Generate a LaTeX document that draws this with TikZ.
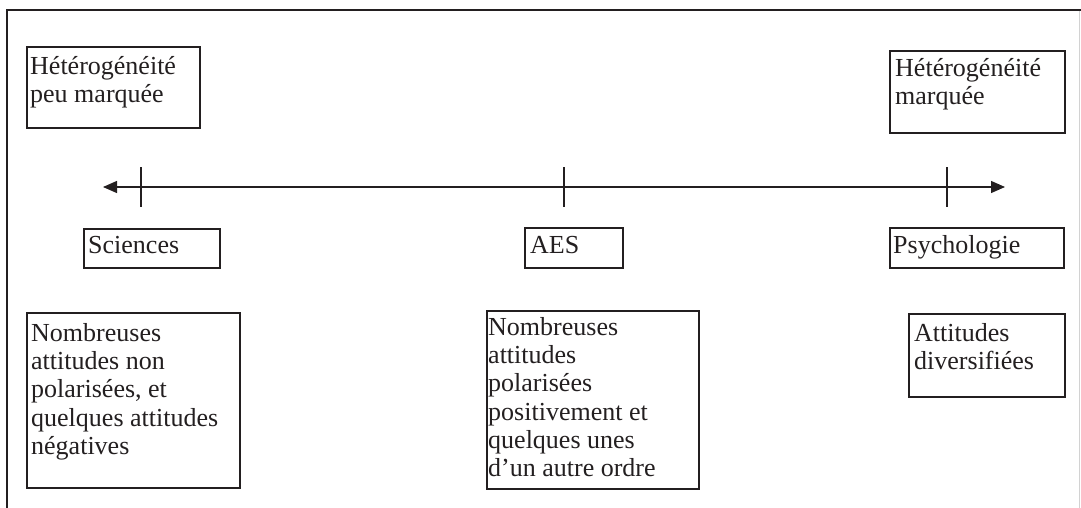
\documentclass[tikz,border=0pt]{standalone}
\usepackage{fontspec}
\setmainfont{Liberation Serif}
\usetikzlibrary{arrows.meta}
\definecolor{ink}{HTML}{231F20}
\newcommand{\fstrut}{\rule{0pt}{22pt}}
\begin{document}
\begin{tikzpicture}[x=1pt,y=-1pt,
  boxed/.style={draw=ink, line width=2pt, inner sep=0pt, anchor=north west},
  txt/.style={inner sep=0pt, anchor=north west, align=left, text=ink, font=\fontsize{26}{28.3}\selectfont},
  axisline/.style={draw=ink, line width=1.3pt},
  tickline/.style={draw=ink, line width=1.5pt},
  tip/.style={Triangle[length=14pt,width=12pt]}]
\useasboundingbox (0,0) rectangle (1081,508);
% outer frame
\draw[ink, line width=2pt] (7,508) -- (7,10) -- (1081,10);
\draw[gray!35, line width=1pt] (1079,11) -- (1079,508);

% top boxes
\node[boxed, minimum width=173pt, minimum height=81pt] (b1) at (26,46) {};
\node[txt] (t1) at ([shift={(4,6)}]b1.north west) {\fstrut Hétérogénéité\\peu marquée};
\node[boxed, minimum width=175pt, minimum height=82pt] (b2) at (889,50) {};
\node[txt] (t2) at ([shift={(6,4)}]b2.north west) {\fstrut Hétérogénéité\\marquée};

% axis
\coordinate (aL) at (103,187);
\coordinate (aR) at (1005,187);
\draw[axisline, {Triangle[length=14pt,width=12pt]}-{Triangle[length=14pt,width=12pt]}] (aL) -- (aR);
\coordinate (k1a) at (141,167); \coordinate (k1b) at (141,207);
\coordinate (k2a) at (564,167); \coordinate (k2b) at (564,207);
\coordinate (k3a) at (947,167); \coordinate (k3b) at (947,207);
\draw[tickline] (k1a) -- (k1b);
\draw[tickline] (k2a) -- (k2b);
\draw[tickline] (k3a) -- (k3b);

% label boxes
\node[boxed, minimum width=136pt, minimum height=39pt] (bs) at (83,228) {};
\node[txt] (ts) at ([shift={(5,3)}]bs.north west) {\fstrut Sciences};
\node[boxed, minimum width=98pt, minimum height=40pt] (ba) at (524,227) {};
\node[txt] (ta) at ([shift={(6,4)}]ba.north west) {\fstrut AES};
\node[boxed, minimum width=174pt, minimum height=40pt] (bp) at (889,227) {};
\node[txt] (tp) at ([shift={(4,4)}]bp.north west) {\fstrut Psychologie};

% bottom boxes
\node[boxed, minimum width=213pt, minimum height=175pt] (bl) at (26,312) {};
\node[txt] (tl) at ([shift={(5,7)}]bl.north west) {\fstrut Nombreuses\\attitudes non\\polarisées, et\\quelques attitudes\\négatives};
\node[boxed, minimum width=212pt, minimum height=178pt] (bm) at (486,310) {};
\node[txt] (tm) at ([shift={(2,3)}]bm.north west) {\fstrut Nombreuses\\attitudes\\polarisées\\positivement et\\quelques unes\\d’un autre ordre};
\node[boxed, minimum width=156pt, minimum height=83pt] (br) at (908,313) {};
\node[txt] (tr) at ([shift={(6,6)}]br.north west) {\fstrut Attitudes\\diversifiées};
\end{tikzpicture}
\end{document}
